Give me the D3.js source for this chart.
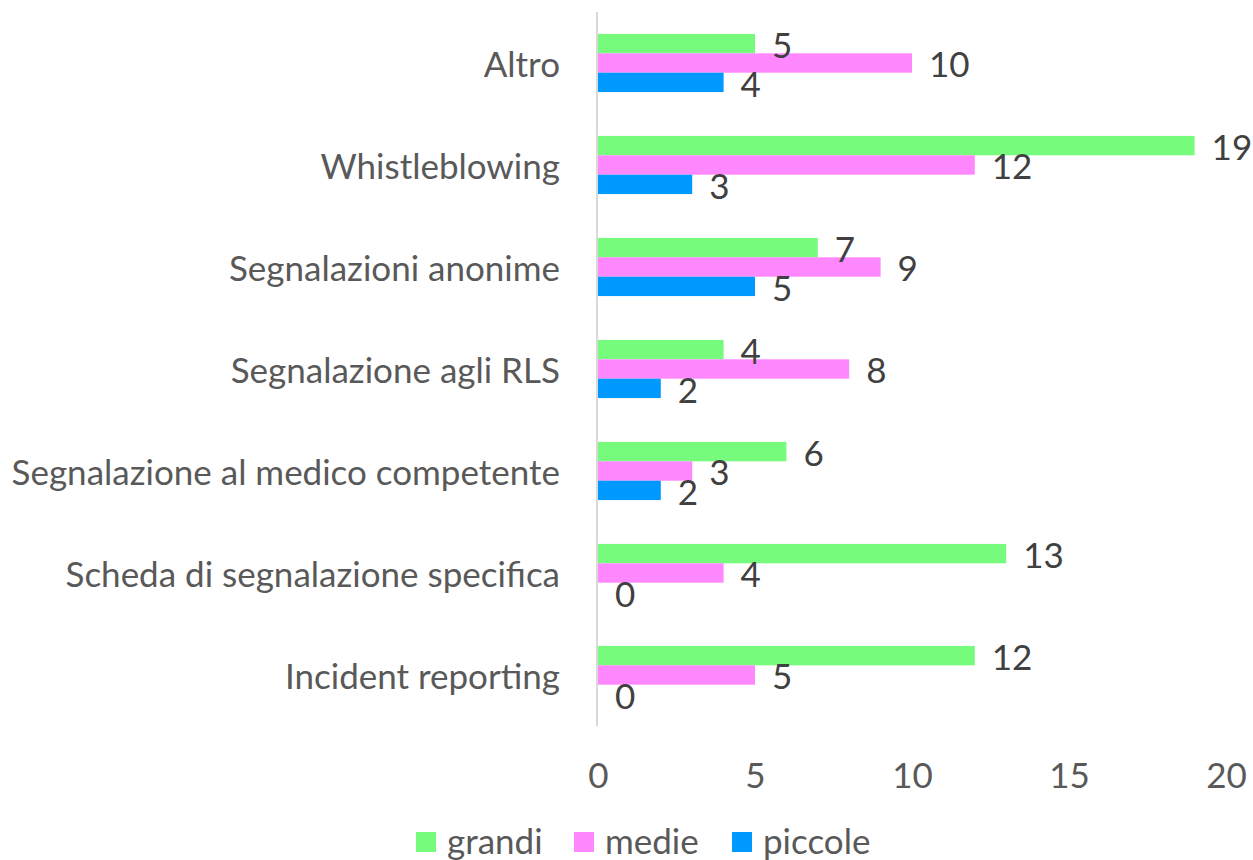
<!DOCTYPE html>
<html>
<head>
  <meta charset="utf-8">
  <title>Canali di segnalazione</title>
  <script src="https://cdn.jsdelivr.net/npm/d3@7"></script>
  <style>
    body { margin: 0; background: #fff; }
    text { font-family: Lato, "Open Sans", sans-serif; }
  </style>
</head>
<body>
  <div id="chart"></div>

  <script>
    // categories top to bottom
    const categories = [
      "Altro",
      "Whistleblowing",
      "Segnalazioni anonime",
      "Segnalazione agli RLS",
      "Segnalazione al medico competente",
      "Scheda di segnalazione specifica",
      "Incident reporting"
    ]
    const seriesNames = ["grandi", "medie", "piccole"]
    const grandi  = [5, 19, 7, 4, 6, 13, 12]
    const medie   = [10, 12, 9, 8, 3, 4, 5]
    const piccole = [4, 3, 5, 2, 2, 0, 0]
    const xTicks = [0, 5, 10, 15, 20]
    const colors = ["#77fb7d", "#ff88ff", "#0099ff"]

    const width = 1253
    const height = 860
    const fontSize = "35px"

    const values = [grandi, medie, piccole]
    const rows = []
    categories.forEach((c, i) => {
      seriesNames.forEach((s, j) => {
        rows.push({ cat: c, series: s, value: values[j][i], color: colors[j] })
      })
    })

    const svg = d3.select("#chart")
      .append("svg")
      .attr("width", width)
      .attr("height", height)

    const x = d3.scaleLinear().domain([0, 20]).range([598, 1226])

    const y = d3.scaleBand()
      .domain(categories)
      .range([12, 726])
      .paddingInner(0.43)
      .paddingOuter(0.215)

    const ySub = d3.scaleBand()
      .domain(seriesNames)
      .range([0, y.bandwidth()])

    // bars
    svg.append("g")
      .selectAll("rect")
      .data(rows)
      .enter()
      .append("rect")
      .attr("x", x(0))
      .attr("y", d => y(d.cat) + ySub(d.series))
      .attr("width", d => x(d.value) - x(0))
      .attr("height", ySub.bandwidth())
      .attr("fill", d => d.color)

    // vertical axis line
    svg.append("line")
      .attr("x1", x(0) - 1).attr("x2", x(0) - 1)
      .attr("y1", y.range()[0]).attr("y2", y.range()[1])
      .style("stroke", "#d9d9d9")
      .style("stroke-width", 2)

    // data labels
    svg.append("g")
      .selectAll("text")
      .data(rows)
      .enter()
      .append("text")
      .attr("x", d => x(d.value) + 17)
      .attr("y", d => y(d.cat) + ySub(d.series) + ySub.bandwidth() / 2 + 2)
      .attr("dy", "0.35em")
      .attr("fill", "#404040")
      .style("font-size", fontSize)
      .text(d => d.value)

    // category labels
    svg.append("g")
      .selectAll("text")
      .data(categories)
      .enter()
      .append("text")
      .attr("x", 560)
      .attr("y", d => y(d) + y.bandwidth() / 2 + 2)
      .attr("dy", "0.35em")
      .attr("text-anchor", "end")
      .attr("fill", "#595959")
      .style("font-size", fontSize)
      .text(d => d)

    // x axis tick labels
    const xAxis = svg.append("g")
      .attr("transform", "translate(0,776)")
      .call(d3.axisBottom(x).tickValues(xTicks).tickSize(0).tickPadding(0))
    xAxis.select(".domain").remove()
    xAxis.selectAll("text")
      .attr("dy", "0.35em")
      .attr("fill", "#595959")
      .style("font-size", fontSize)
      .style("font-family", "Lato, 'Open Sans', sans-serif")

    // legend
    const legendX = [416, 574, 732]
    const legend = svg.append("g")
      .selectAll("g")
      .data(seriesNames)
      .enter()
      .append("g")
      .attr("transform", (d, i) => `translate(${legendX[i]},842)`)
    legend.append("rect")
      .attr("x", 0).attr("y", -10)
      .attr("width", 20).attr("height", 20)
      .attr("fill", (d, i) => colors[i])
    legend.append("text")
      .attr("x", 31)
      .attr("y", 0)
      .attr("dy", "0.33em")
      .attr("fill", "#595959")
      .style("font-size", fontSize)
      .text(d => d)
  </script>
</body>
</html>
